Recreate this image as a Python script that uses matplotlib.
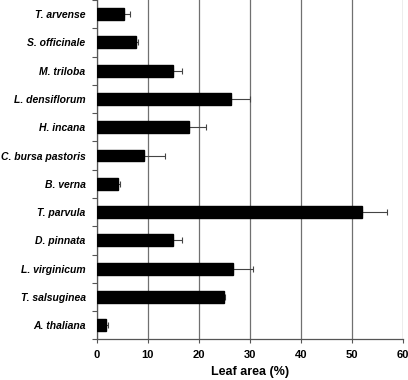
import matplotlib
matplotlib.use("Agg")
import matplotlib.pyplot as plt
import numpy as np

species = ["T. arvense", "S. officinale", "M. triloba", "L. densiflorum",
           "H. incana", "C. bursa pastoris", "B. verna", "T. parvula",
           "D. pinnata", "L. virginicum", "T. salsuginea", "A. thaliana"]
leaf_area = [5.3, 7.7, 15.0, 26.2, 18.0, 9.3, 4.2, 52.0, 14.9, 26.7, 24.9, 1.8]
error = [1.2, 0.3, 1.7, 3.8, 3.4, 4.0, 0.3, 4.8, 1.7, 3.8, 0.3, 0.4]
xticks = [0, 10, 20, 30, 40, 50, 60]

plt.rcParams['font.family'] = ['Liberation Sans', 'DejaVu Sans']

fig = plt.figure(figsize=(4.08, 3.80), dpi=100)
ax = fig.add_axes([0.237, 0.107, 0.7515, 0.893])

y = np.arange(len(species))
ax.barh(y, leaf_area, height=0.42, color='black', edgecolor='black', zorder=3)
ax.errorbar(leaf_area, y, xerr=[np.zeros(len(error)), error], fmt='none',
            ecolor='#444444', elinewidth=0.8, capsize=2, capthick=0.8, zorder=2)

ax.set_ylim(len(species) - 0.5, -0.5)
ax.set_xlim(0, 60)
ax.set_xticks(xticks)
ax.set_xticklabels([str(t) for t in xticks], fontsize=8, fontweight='bold')
ax.set_yticks(y)
ax.set_yticklabels(species, fontsize=7.5, fontweight='bold', fontstyle='italic')
ax.set_yticks(np.arange(len(species) + 1) - 0.5, minor=True)
ax.tick_params(axis='y', which='major', length=0, pad=8)
ax.tick_params(axis='y', which='minor', length=3.5, width=0.8, direction='out', color='#555555')
ax.tick_params(axis='x', which='major', length=3, width=0.8, pad=5, color='#555555')

ax.xaxis.grid(True, color='#707070', linewidth=0.9, zorder=0)
ax.set_axisbelow(True)
for s in ['top', 'right']:
    ax.spines[s].set_visible(False)
for s in ['left', 'bottom']:
    ax.spines[s].set_color('#555555')
    ax.spines[s].set_linewidth(0.9)

ax.set_xlabel("Leaf area (%)", fontsize=9, fontweight='bold', labelpad=4)

fig.savefig("out.png", dpi=100)
